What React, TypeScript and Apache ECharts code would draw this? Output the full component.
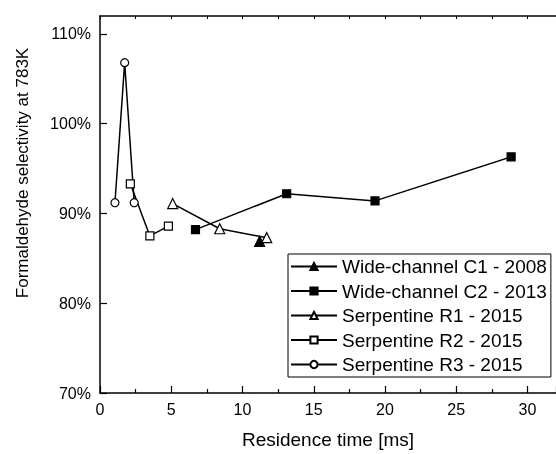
import React, { useEffect, useRef } from "react";
import * as echarts from "echarts";

const seriesNames = [
  "Wide-channel C1 - 2008",
  "Wide-channel C2 - 2013",
  "Serpentine R1 - 2015",
  "Serpentine R2 - 2015",
  "Serpentine R3 - 2015",
];
const c1Data = [[11.2, 86.9]];
const c2Data = [
  [6.7, 88.2],
  [13.1, 92.2],
  [19.3, 91.4],
  [28.85, 96.3],
];
const r1Data = [
  [5.1, 91.1],
  [8.4, 88.3],
  [11.7, 87.3],
];
const r2Data = [
  [2.13, 93.3],
  [3.5, 87.5],
  [4.8, 88.6],
];
const r3Data = [
  [1.05, 91.2],
  [1.73, 106.8],
  [2.4, 91.2],
];

const FONT = "'Liberation Sans', Arial, sans-serif";

export default function App() {
  const ref = useRef<HTMLDivElement>(null);
  useEffect(() => {
    if (!ref.current) return;
    const chart = echarts.init(ref.current, undefined, { renderer: "svg" });
    const mk = (
      name: string,
      data: number[][],
      symbol: string,
      size: number,
      filled: boolean
    ) => ({
      name,
      type: "line",
      data,
      symbol,
      symbolSize: size,
      showAllSymbol: true,
      lineStyle: { color: "#000", width: 1.5 },
      itemStyle: {
        color: filled ? "#000" : "#fff",
        borderColor: "#000",
        borderWidth: 1.2,
      },
      emphasis: { disabled: true },
      z: 3,
    });
    chart.setOption({
      animation: false,
      grid: { left: 100, top: 16, right: 0, bottom: 58 },
      xAxis: [
        {
          type: "value",
          min: 0,
          max: 32,
          interval: 5,
          name: "Residence time [ms]",
          nameLocation: "middle",
          nameGap: 37,
          nameTextStyle: { fontFamily: FONT, fontSize: 19, color: "#000" },
          axisLine: { show: true, lineStyle: { color: "#000", width: 1.5 } },
          axisTick: { show: true, inside: true, length: 7, lineStyle: { color: "#000", width: 1.2 } },
          minorTick: { show: true, splitNumber: 2, length: 4, lineStyle: { color: "#000", width: 1.2 } },
          axisLabel: { fontFamily: FONT, fontSize: 16, color: "#000", margin: 8, showMaxLabel: false },
          splitLine: { show: false },
        },
        {
          type: "value",
          position: "top",
          min: 0,
          max: 32,
          interval: 2.5,
          axisLine: { show: true, lineStyle: { color: "#000", width: 1.5 } },
          axisTick: { show: true, inside: true, length: 3, lineStyle: { color: "#000", width: 1 } },
          axisLabel: { show: false },
          splitLine: { show: false },
        },
      ],
      yAxis: {
        type: "value",
        min: 70,
        max: 112,
        interval: 10,
        axisLine: { show: true, lineStyle: { color: "#000", width: 1.5 } },
        axisTick: { show: true, inside: true, length: 7, lineStyle: { color: "#000", width: 1.2 } },
        axisLabel: {
          fontFamily: FONT,
          fontSize: 16,
          color: "#000",
          margin: 9,
          formatter: "{value}%",
          showMaxLabel: false,
        },
        splitLine: { show: false },
      },
      legend: {
        orient: "vertical",
        left: 288,
        top: 254,
        data: seriesNames,
        itemWidth: 46,
        itemHeight: 9,
        itemGap: 5.5,
        padding: [3, 4, 3, 2],
        borderColor: "#000",
        borderWidth: 1,
        backgroundColor: "#fff",
        textStyle: { fontFamily: FONT, fontSize: 19, color: "#000", lineHeight: 19 },
        selectedMode: false,
      },
      graphic: [
        {
          type: "text",
          x: 22,
          y: 173,
          rotation: Math.PI / 2,
          style: {
            text: "Formaldehyde selectivity at 783K",
            font: `17px ${FONT}`,
            fill: "#000",
            align: "center",
            verticalAlign: "middle",
          },
        },
      ],
      series: [
        mk(seriesNames[0], c1Data, "triangle", 10, true),
        mk(seriesNames[1], c2Data, "rect", 8, true),
        mk(seriesNames[2], r1Data, "triangle", 10, false),
        mk(seriesNames[3], r2Data, "rect", 8, false),
        mk(seriesNames[4], r3Data, "circle", 8, false),
      ],
    });
    return () => chart.dispose();
  }, []);
  return (
    <div
      ref={ref}
      style={{ position: "fixed", left: 0, top: 0, width: 556, height: 454 }}
    />
  );
}
